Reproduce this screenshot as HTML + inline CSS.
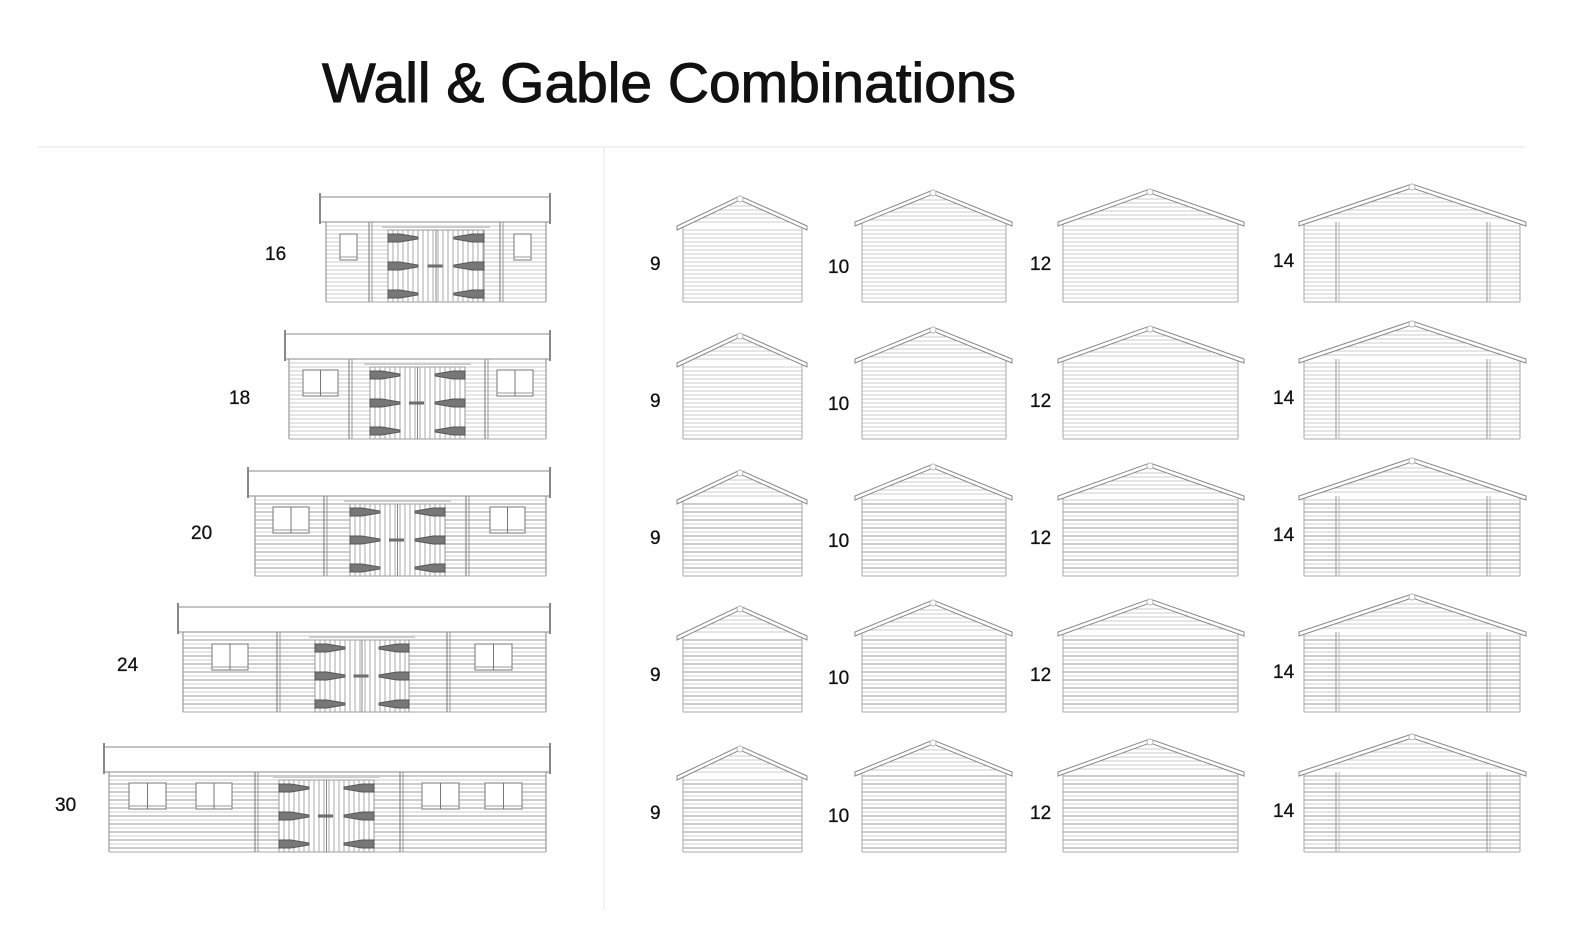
<!DOCTYPE html>
<html><head><meta charset="utf-8">
<style>
html,body{margin:0;padding:0;background:#fff;}
svg{display:block}
text{font-family:"Liberation Sans","DejaVu Sans",sans-serif;fill:#111}
</style></head>
<body>
<svg id="s" width="1578" height="949" viewBox="0 0 1578 949" xmlns="http://www.w3.org/2000/svg">
<text x="322" y="102" font-size="56" stroke="#111" stroke-width="1" textLength="694" lengthAdjust="spacingAndGlyphs">Wall &amp; Gable Combinations</text>
<line x1="38" y1="147" x2="1525" y2="147" stroke="#e4e4e4" stroke-width="1"/>
<line x1="604" y1="147" x2="604" y2="910" stroke="#e4e4e4" stroke-width="1"/>
<g font-size="19" stroke="#111" stroke-width="0.3">
<text x="265" y="260">16</text>
<text x="229" y="404">18</text>
<text x="191" y="539">20</text>
<text x="117" y="671">24</text>
<text x="55" y="811">30</text>
<text x="650" y="270">9</text><text x="828" y="273">10</text><text x="1030" y="270">12</text><text x="1273" y="267">14</text>
<text x="650" y="407">9</text><text x="828" y="410">10</text><text x="1030" y="407">12</text><text x="1273" y="404">14</text>
<text x="650" y="544">9</text><text x="828" y="547">10</text><text x="1030" y="544">12</text><text x="1273" y="541">14</text>
<text x="650" y="681">9</text><text x="828" y="684">10</text><text x="1030" y="681">12</text><text x="1273" y="678">14</text>
<text x="650" y="819">9</text><text x="828" y="822">10</text><text x="1030" y="819">12</text><text x="1273" y="817">14</text>
</g>
<g id="g"></g>
</svg>
<script>
var g=document.getElementById('g'),h='';
function L(x1,y1,x2,y2,c,w){h+='<line x1="'+x1+'" y1="'+y1+'" x2="'+x2+'" y2="'+y2+'" stroke="'+(c||'#aaa')+'" stroke-width="'+(w||1)+'"/>';}
function R(x,y,w,hh,c,f){h+='<rect x="'+x+'" y="'+y+'" width="'+w+'" height="'+hh+'" fill="'+(f||'none')+'" stroke="'+(c||'#888')+'" stroke-width="1"/>';}
function P(pts,c,f){h+='<polygon points="'+pts+'" fill="'+(f||'none')+'" stroke="'+(c||'#888')+'" stroke-width="1"/>';}
var rows=[302,439,576,712,852];
var cols=[[683,802,740,677,807,76,26],[862,1006,933,855,1012,80,28],[1063,1238,1150,1058,1244,80,29],[1304,1520,1412,1299,1526,80,34]];
rows.forEach(function(b){cols.forEach(function(c,i){
 var top=b-c[5], ap=top-c[6];
 for(var y=top+4;y<b;y+=4)L(c[0],y,c[1],y,y%8?'#ccc':'#999',1);
 L(c[0],top,c[0],b,'#aaa');L(c[1],top,c[1],b,'#aaa');L(c[0],b,c[1],b,'#aaa');
 for(var y=ap+6;y<top;y+=4){var t=(y-ap)/(top-ap);L(c[2]-(c[2]-c[3])*t+4,y,c[2]+(c[4]-c[2])*t-4,y,'#ccc');}
 P(c[3]+','+(top+4)+' '+c[2]+','+(ap)+' '+c[4]+','+(top+4)+' '+c[4]+','+(top)+' '+c[2]+','+(ap-4)+' '+c[3]+','+top,'#888','#fff');
 h+='<circle cx="'+c[2]+'" cy="'+(ap-1)+'" r="3" fill="#fff" stroke="#bbb"/>';
 if(i==3){L(1336,top,1336,b,'#999');L(1339,top,1339,b,'#bbb');L(1487,top,1487,b,'#999');L(1490,top,1490,b,'#bbb');}
});});
var sh=[
 [320,326,197,302,[370,501],388,484,[[340,357,234,260],[514,531,234,260]]],
 [285,289,334,439,[350,486],370,465,[[303,338,370,396],[497,533,370,396]]],
 [248,255,471,576,[325,467],350,445,[[273,309,507,533],[490,525,507,533]]],
 [178,183,607,712,[278,448],315,409,[[212,248,644,670],[475,512,644,670]]],
 [104,109,747,852,[256,401],279,374,[[129,166,783,809],[196,232,783,809],[422,459,783,809],[485,522,783,809]]]];
sh.forEach(function(s){
 var rt=s[2],rb=rt+25,b=s[3],wl=s[1],wr=546;
 for(var y=rb+4;y<b;y+=4)L(wl,y,wr,y,y%8?'#ccc':'#999');
 L(wl,rb,wl,b,'#888');L(wr,rb,wr,b,'#888');L(wl,b,wr,b,'#aaa');
 s[4].forEach(function(x){L(x-1,rb,x-1,b,'#777');L(x+2,rb,x+2,b,'#999');});
 var dt=rb+8,dl=s[5],dr=s[6];
 R(dl,dt,dr-dl,b-dt,'#999','#fff');
 for(var x=dl+5;x<dr;x+=5)L(x,dt,x,b,'#aaa');
 L(dl-6,rb+5,dr+6,rb+5,'#ccc',2);
 var mx=(dl+dr)/2;L(mx,dt,mx,b,'#888');
 [dt+8,(dt+b)/2,b-8].forEach(function(y){
  P(dl+','+(y-4)+' '+(dl+12)+','+(y-4)+' '+(dl+30)+','+(y-1)+' '+(dl+30)+','+(y+1)+' '+(dl+12)+','+(y+4)+' '+dl+','+(y+4),'#555','#777');
  P(dr+','+(y-4)+' '+(dr-12)+','+(y-4)+' '+(dr-30)+','+(y-1)+' '+(dr-30)+','+(y+1)+' '+(dr-12)+','+(y+4)+' '+dr+','+(y+4),'#555','#777');
 });
 R(mx-8,(dt+b)/2-1,14,2,'#666','#777');
 s[7].forEach(function(w){
  R(w[0],w[2],w[1]-w[0],w[3]-w[2],'#777','#fff');
  L(w[0],w[3]-3,w[1],w[3]-3,'#999');
  if(w[1]-w[0]>25)L((w[0]+w[1])/2,w[2],(w[0]+w[1])/2,w[3],'#777');
 });
 R(s[0],rt,550-s[0],25,'#888','#fff');
 L(s[0],rt-4,s[0],rb+2,'#888',2);L(550,rt-4,550,rb+2,'#888',2);
});
g.innerHTML=h;
</script>
</body></html>
